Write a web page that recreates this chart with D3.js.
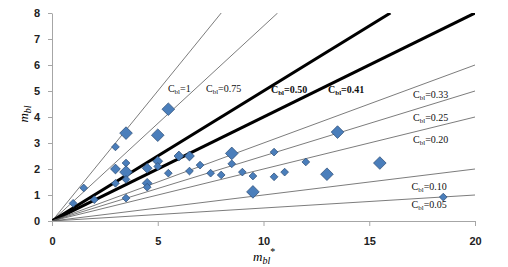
<!DOCTYPE html>
<html>
<head>
<meta charset="utf-8">
<style>
    body { margin: 0; background: #fff; }
    svg { display: block; font-family: 'Liberation Serif', 'DejaVu Serif', serif; }
    .tick text { font-size: 11px; font-weight: bold; fill: #222; }
    .axis path, .axis line { stroke: #a6a6a6; }
    .lbl { font-size: 10px; fill: #111; }
</style>
</head>
<body>
<svg width="508" height="267"></svg>
<script src="https://d3js.org/d3.v7.min.js"></script>
<script>
    // measured points: m_bl* vs m_bl
    let mStar = [1.0, 1.5, 2.0, 3.0, 3.5, 3.5, 3.0, 3.5, 3.5, 3.0, 3.5, 4.5, 4.5, 4.5, 5.0, 5.0, 5.0, 5.5, 5.5,
        6.0, 6.5, 6.5, 7.0, 7.5, 8.0, 8.5, 8.5, 9.0, 9.5, 9.5, 10.5, 10.5, 11.0, 12.0, 13.0, 13.5, 15.5, 18.5];
    let mBl = [0.68, 1.27, 0.82, 2.85, 3.38, 2.23, 2.0, 1.88, 1.6, 1.45, 0.88, 2.03, 1.45, 1.3, 3.3, 2.3, 2.1, 1.84, 4.3,
        2.5, 2.5, 1.92, 2.15, 1.84, 1.77, 2.6, 2.2, 1.88, 1.73, 1.12, 2.65, 1.7, 1.88, 2.27, 1.8, 3.42, 2.23, 0.92];
    let pointGroup = ['S', 'S', 'S', 'S', 'L', 'S', 'M', 'L', 'S', 'S', 'S', 'M', 'M', 'S', 'L', 'M', 'S', 'S', 'L',
        'M', 'M', 'S', 'S', 'S', 'S', 'L', 'S', 'S', 'S', 'L', 'S', 'S', 'S', 'S', 'L', 'L', 'L', 'S'];

    // reference lines m_bl = C_bl * m_bl*
    let cLabels = ['1', '0.75', '0.50', '0.41', '0.33', '0.25', '0.20', '0.10', '0.05'];
    let cSlopes = [1, 0.75, 0.5, 0.4, 0.3, 0.25, 0.2, 0.1, 0.05];
    let cBold = [false, false, true, true, false, false, false, false, false];

    let xTicks = [0, 5, 10, 15, 20];
    let yTicks = [0, 1, 2, 3, 4, 5, 6, 7, 8];

    // label anchors, in data units
    let labelPos = [[5.48, 4.96], [7.28, 4.96], [10.35, 4.92], [13.05, 4.92], [17.07, 4.74],
        [17.07, 3.83], [17.07, 3.0], [17.0, 1.2], [17.0, 0.5]];

    let svg = d3.select("svg");

    let x = d3.scaleLinear().domain([0, 20]).range([52, 475]);
    let y = d3.scaleLinear().domain([0, 8]).range([221, 13]);

    let xAxis = svg.append("g")
        .attr("class", "axis")
        .attr("transform", "translate(0,221)")
        .call(d3.axisBottom(x).tickValues(xTicks).tickSize(5).tickPadding(11).tickSizeOuter(0));
    let yAxis = svg.append("g")
        .attr("class", "axis")
        .attr("transform", "translate(52,0)")
        .call(d3.axisLeft(y).tickValues(yTicks).tickSize(4).tickPadding(8).tickSizeOuter(0));

    // C_bl lines, clipped to the plot box
    svg.append("clipPath").attr("id", "plot")
        .append("rect").attr("x", 52).attr("y", 13).attr("width", 423).attr("height", 208);

    let lines = cSlopes.map((s, i) => ({ s: s, bold: cBold[i] }));
    svg.append("g").attr("clip-path", "url(#plot)")
        .selectAll("line")
        .data(lines)
        .join("line")
        .attr("x1", x(0))
        .attr("y1", y(0))
        .attr("x2", d => x(Math.min(20, 8 / d.s)))
        .attr("y2", d => y(Math.min(8, 20 * d.s)))
        .style("stroke", d => d.bold ? "#000" : "#5a5a5a")
        .style("stroke-width", d => d.bold ? 3 : 0.8);

    let size = d3.scaleOrdinal().domain(['S', 'M', 'L']).range([30, 48, 80]);
    let pts = mStar.map((v, i) => ({ x: v, y: mBl[i], g: pointGroup[i] }));

    svg.append("g")
        .selectAll("path")
        .data(pts)
        .join("path")
        .attr("d", d => d3.symbol(d3.symbolSquare, size(d.g))())
        .attr("transform", d => "translate(" + x(d.x) + "," + y(d.y) + ") rotate(45)")
        .style("fill", "#4a7ebb")
        .style("stroke", "#2c4d75")
        .style("stroke-width", 0.7);

    // C_bl labels
    let lbl = svg.append("g")
        .selectAll("text")
        .data(cLabels)
        .join("text")
        .attr("class", "lbl")
        .attr("x", (d, i) => x(labelPos[i][0]))
        .attr("y", (d, i) => y(labelPos[i][1]))
        .style("font-weight", (d, i) => cBold[i] ? "bold" : "normal");
    lbl.append("tspan").text("C");
    lbl.append("tspan").attr("dy", 2).style("font-size", "7px").text("bl");
    lbl.append("tspan").attr("dy", -2).text(d => "=" + d);

    // axis titles
    let yt = svg.append("text")
        .attr("transform", "translate(28,114) rotate(-90)")
        .attr("text-anchor", "middle")
        .style("font-size", "13px")
        .style("font-style", "italic");
    yt.append("tspan").text("m");
    yt.append("tspan").attr("dy", 3).style("font-size", "10px").text("bl");

    let xt = svg.append("text")
        .attr("x", 253)
        .attr("y", 261)
        .style("font-size", "13px")
        .style("font-style", "italic");
    xt.append("tspan").text("m");
    xt.append("tspan").attr("dy", 3).style("font-size", "10px").text("bl");
    xt.append("tspan").attr("dy", -9).style("font-size", "10px").style("font-style", "normal").text("*");
</script>
</body>
</html>
